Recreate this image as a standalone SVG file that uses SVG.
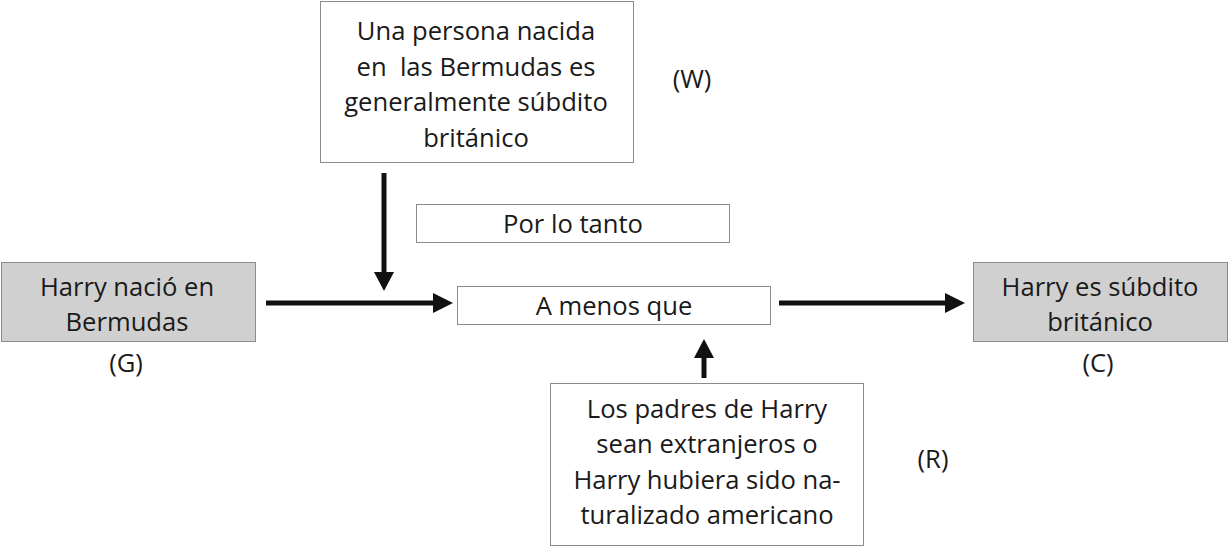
<svg xmlns="http://www.w3.org/2000/svg" width="1229" height="547" viewBox="0 0 1229 547">
<style>
text{font-family:"Open Sans","Noto Sans",sans-serif;font-size:25.6px;fill:#1a1a1a;text-anchor:middle}
.box{fill:#fff;stroke:#8c8c8c;stroke-width:1}
.gbox{fill:#d0d0d0;stroke:#8c8c8c;stroke-width:1}
.conn{stroke:#111;stroke-width:5;fill:none}
.head{fill:#111}
</style>
<rect width="1229" height="547" fill="#fff"/>
<g id="node-W">
<rect class="box" x="320.5" y="1.5" width="313" height="161"/>
<text x="476" y="40">Una persona nacida</text>
<text x="476" y="76" xml:space="preserve">en  las Bermudas es</text>
<text x="476" y="111">generalmente súbdito</text>
<text x="476" y="147">británico</text>
</g>
<g id="label-W"><text x="692" y="88">(W)</text></g>
<g id="node-portanto">
<rect class="box" x="416.5" y="204.5" width="313" height="38"/>
<text x="573" y="233">Por lo tanto</text>
</g>
<g id="node-G">
<rect class="gbox" x="1.5" y="262.5" width="254" height="79"/>
<text x="127" y="296">Harry nació en</text>
<text x="127" y="331">Bermudas</text>
</g>
<g id="label-G"><text x="126" y="372">(G)</text></g>
<g id="node-amenos">
<rect class="box" x="457.5" y="286.5" width="313" height="38"/>
<text x="614" y="315">A menos que</text>
</g>
<g id="node-C">
<rect class="gbox" x="973.5" y="262.5" width="254" height="79"/>
<text x="1100" y="296">Harry es súbdito</text>
<text x="1100" y="331">británico</text>
</g>
<g id="label-C"><text x="1098" y="372">(C)</text></g>
<g id="node-R">
<rect class="box" x="550.5" y="383.5" width="313" height="162"/>
<text x="707" y="418">Los padres de Harry</text>
<text x="707" y="453">sean extranjeros o</text>
<text x="707" y="489">Harry hubiera sido na-</text>
<text x="707" y="524">turalizado americano</text>
</g>
<g id="label-R"><text x="933" y="468">(R)</text></g>
<g id="connectors">
<line class="conn" x1="266" y1="303" x2="436" y2="303"/>
<polygon class="head" points="433,293 453,303 433,313"/>
<line class="conn" x1="384" y1="173" x2="384" y2="274"/>
<polygon class="head" points="374,272 394,272 384,291"/>
<line class="conn" x1="779" y1="303" x2="948" y2="303"/>
<polygon class="head" points="945,293 965,303 945,313"/>
<line class="conn" x1="704" y1="378" x2="704" y2="355"/>
<polygon class="head" points="694,358 714,358 704,339"/>
</g>
</svg>
